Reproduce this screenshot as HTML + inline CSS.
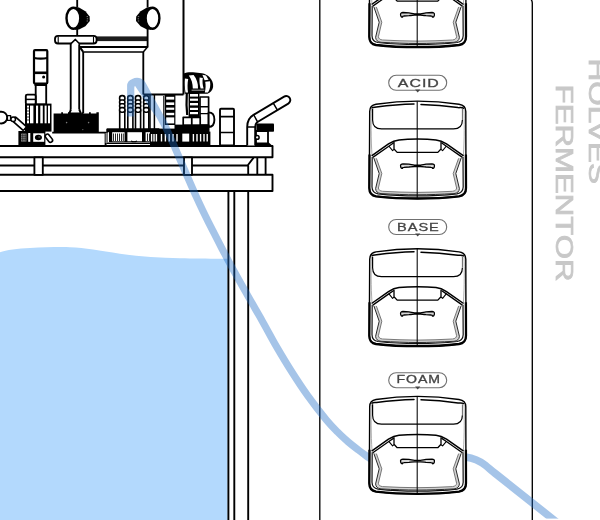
<!DOCTYPE html>
<html lang="en">
<head>
<meta charset="utf-8">
<title>Holves Fermentor</title>
<style>
html,body{margin:0;padding:0;background:#fff;}
body{width:600px;height:520px;overflow:hidden;position:relative;font-family:"Liberation Sans",sans-serif;}
svg{position:absolute;left:0;top:0;display:block;will-change:transform;}
.k{fill:none;stroke:#000;stroke-width:1.85;stroke-linecap:butt;stroke-linejoin:round;}
.k2{fill:none;stroke:#000;stroke-width:2.2;stroke-linejoin:round;}
.k1{fill:none;stroke:#000;stroke-width:1.1;stroke-linejoin:round;}
.w{fill:#fff;stroke:#000;stroke-width:1.85;stroke-linejoin:round;}
.w1{fill:#fff;stroke:#000;stroke-width:1.2;stroke-linejoin:round;}
.b{fill:#000;stroke:none;}
.lab{font-family:"Liberation Sans",sans-serif;font-size:11.2px;fill:#444;stroke:#444;stroke-width:0.3;}
.brand{font-family:"Liberation Sans",sans-serif;font-size:23.4px;fill:#c8c8c8;stroke:#c8c8c8;stroke-width:0.7;}
</style>
</head>
<body>
<svg width="600" height="520" viewBox="0 0 600 520">
<defs>
<!-- PUMP-SYMBOL -->
<g id="pump">
<path d="M369.7,111.5 C369.7,107 371.6,104.9 376,104.2 C390,102.2 404,101.2 417.5,101.1 C431,101.2 445,102.2 459,104.2 C463.6,104.9 465.8,107 465.8,111.5 L466,188 C466,193 463.6,195.6 459,196.3 C445,197.9 431,198.5 417.5,198.5 C404,198.5 390,197.9 376,196.3 C371.6,195.6 369.3,193 369.3,188 Z" fill="#fff" stroke="#000" stroke-width="1.4" stroke-linejoin="round"/>
<path d="M369.5,154.5 L369.3,188 C369.3,193 371.6,195.6 376,196.3 C390,197.9 404,198.5 417.5,198.5 C431,198.5 445,197.9 459,196.3 C463.6,195.6 466,193 466,188 L465.9,154.5" fill="none" stroke="#000" stroke-width="2.3" stroke-linejoin="round"/>
<path d="M372,108 C373,107 374.5,107.4 376.5,107.1 C390,105.3 403,104.3 414,104.1 M421,104.5 C432,104.9 445,105.9 458,107.6 C460,107.8 462,107.2 463.4,108.2" fill="none" stroke="#000" stroke-width="1.5" stroke-linecap="round"/>
<path d="M372.6,109 V120 C372.6,126 375.6,128.9 381.5,128.9 H453.5 C459.4,128.9 462.4,126 462.4,120" fill="none" stroke="#000" stroke-width="1.2"/><path d="M462.4,120 V109" fill="none" stroke="#666" stroke-width="1"/>
<path d="M371.4,109 C371,120 370.9,140 372,155 M464,109 C464.4,120 464.5,140 463.4,155" fill="none" stroke="#888" stroke-width="0.7"/>
<path d="M371.6,155.8 L388.5,143.9 C392,141.6 395,140.3 399,139.9 C405,139.3 411,139.1 417.5,139.1 C424,139.1 430,139.3 436,139.9 C440,140.3 443,141.6 446.5,143.9 L463.6,155.8" fill="none" stroke="#000" stroke-width="1.5" stroke-linejoin="round"/>
<path d="M372.8,157.4 L388.8,146.2 L393.8,142.8 M462.4,157.4 L446.4,146.2 L441.4,142.8" fill="none" stroke="#000" stroke-width="1.3" stroke-linejoin="round"/>
<path d="M394,142 V149 L397.2,152.4 H437.8 L441,149 V142" fill="none" stroke="#000" stroke-width="1.3" stroke-linejoin="round"/>
<path d="M388.8,146 L392.6,150.6 L394,149.4 M446.4,146 L442.6,150.6 L441,149.4" fill="none" stroke="#000" stroke-width="1.1" stroke-linejoin="round"/>
<path d="M372.2,157 L372,187 C372.1,191 374,193.2 378,193.8 C391,195.3 404,195.9 417.5,195.9 C431,195.9 444,195.3 457,193.8 C461,193.2 463,191 463.2,187 L463,157" fill="none" stroke="#111" stroke-width="1.2" stroke-linejoin="round"/>
<path d="M375.1,158.2 L380.5,173.5 L377,188.3 C377.2,190.8 378.8,192.2 381.8,192.5 C394,193.1 406,193.6 417.5,193.6 C429,193.6 441,193.1 453.2,192.5 C456.2,192.2 457.8,190.8 458,188.3 L454.5,173.5 L459.9,158.2" fill="none" stroke="#d2d2d2" stroke-width="2.6" stroke-linejoin="round"/>
<path d="M373.8,158 L379.2,173.5 L375.6,188.6 C375.8,191.6 377.6,193.2 381,193.6 C394,194.3 406,194.8 417.5,194.8 C429,194.8 441,194.3 454,193.6 C457.4,193.2 459.2,191.6 459.4,188.6 L455.8,173.5 L461.2,158" fill="none" stroke="#2a2a2a" stroke-width="1" stroke-linejoin="round"/>
<path d="M376.4,158.4 L381.8,173.5 L378.4,188 C378.6,190 380,191 382.6,191.3 C394,191.9 406,192.4 417.5,192.4 C429,192.4 441,191.9 452.4,191.3 C455,191 456.4,190 456.6,188 L453.2,173.5 L458.6,158.4" fill="none" stroke="#6a6a6a" stroke-width="0.9" stroke-linejoin="round"/>
<path d="M400.6,166.4 C400.2,164.6 401.4,163.8 403,163.8 L409,164.1 C411,164.3 412.5,165 414.5,165.1 L420.5,165.1 C422.5,165 424,164.3 426,164.1 L432,163.8 C433.6,163.8 434.8,164.6 434.4,166.4 C434.2,167.8 433.4,168.6 432.4,168.4 C432.6,167.6 432,167.3 431,167.3 L426,167 C424,166.8 422.5,166.5 420.5,166.5 L414.5,166.5 C412.5,166.5 411,166.8 409,167 L404,167.3 C403,167.3 402.4,167.6 402.6,168.4 C401.6,168.6 400.8,167.8 400.6,166.4 Z" fill="#d6d6d6" stroke="#000" stroke-width="1.3" stroke-linejoin="round"/>
<path d="M417.2,101.3 V198.5" fill="none" stroke="#000" stroke-width="1.05"/>
</g>

</defs>
<rect x="0" y="0" width="600" height="520" fill="#fff"/>

<!-- liquid -->
<path id="liquid" d="M0,252.3 C6,250 18,248.6 30,248 C45,247.2 60,246.9 70,247.2 C85,247.8 100,250.4 120,253.8 C140,256.6 160,257.8 180,258.3 C195,258.6 215,258.8 227.6,258.7 L227.6,520 L0,520 Z" fill="#b3d9fd"/>

<!-- FERMENTOR-DRAWING -->
<g id="fermentor">
<!-- vessel wall / legs -->
<path class="k" style="stroke-width:1.9" d="M228.4,191 V525 M234.3,191 V525 M248.2,191 V525"/>
<!-- platform -->
<rect class="w" x="-5" y="146" width="277.5" height="11.2" style="stroke-width:1.9"/>
<rect class="w" x="-5" y="174.8" width="277.5" height="16.2" style="stroke-width:1.9"/>
<path class="k" d="M0,165.5 H247.6 L253.6,157.6 M248.2,165.5 V175 M257.3,157.5 V175 M265.6,157.5 V175"/>
<rect class="w" x="34.4" y="157.3" width="8.4" height="17.5"/>
<rect class="w" x="184" y="157.3" width="8" height="17.5"/>

<!-- tall frame lines -->
<path class="k" style="stroke-width:2" d="M183.5,-2 V94.5 M143.3,94.5 H183.5"/>
<path class="k" d="M143.3,51.9 V94.5 M83.2,51.9 V113"/>
<path class="k" style="stroke-width:1.5" d="M83.2,51.9 H143.3 L147.5,47"/>
<path class="k" style="stroke-width:2" d="M79.6,46.9 H147.5 M79.6,46.9 L83.2,51.9"/>
<rect x="96.5" y="36.4" width="50.8" height="4.7" fill="#1c1c1c"/>
<path class="k" d="M147.6,29 V47.5"/>

<!-- bulb 1 -->
<path class="k" d="M77.2,-2 V7.5 M77.2,29 V36"/>
<path class="b" d="M75,6.8 L79,7.4 L85.4,11.2 L89.6,16.4 L89.8,21 L85.4,26.2 L79,29.4 L75,29.8 Z"/>
<ellipse cx="73.4" cy="18.2" rx="6.9" ry="10.5" class="w" style="stroke-width:2.4"/>
<path d="M86.6,16.6 h1.4 M86.8,18.8 h1.4 M86.6,21 h1.4" stroke="#999" stroke-width="0.8" fill="none"/>
<!-- bulb 2 -->
<path class="k" d="M147.6,-2 V7.5"/>
<path class="b" d="M151,6.8 L147,7.4 L140.6,11.2 L136.2,16.4 L136,21 L140.6,26.2 L147,29.4 L151,29.8 Z"/>
<ellipse cx="152.5" cy="18.2" rx="6.9" ry="10.5" class="w" style="stroke-width:2.4"/>
<path d="M137.8,16.6 h1.4 M137.6,18.8 h1.4 M137.8,21 h1.4" stroke="#999" stroke-width="0.8" fill="none"/>

<!-- T bar and stem -->
<path class="k" d="M70.7,43.5 V110 M79.2,43.5 V110"/>
<rect class="w" x="55" y="35.8" width="41.6" height="7.7" rx="3" ry="3"/>
<path class="k1" d="M58.2,36.5 V43 M93.5,36.5 V43"/>
<path class="w" d="M71,45 L71,43.6 L75.4,39.4 L79.2,43.6 L79.2,45" style="stroke-width:1.5"/>
<path class="w" d="M71,109.5 L69.2,113.5 H81 L79.2,109.5"/>

<!-- tower -->
<rect class="w" x="34" y="50.2" width="13.3" height="33.4" rx="1" ry="1" style="stroke-width:2.2"/>
<path class="k" d="M34,58 Q40.7,59.4 47.4,58" style="stroke-width:2.2"/>
<path class="k" d="M34,72.8 H47.4" style="stroke-width:2.6"/>
<circle cx="43.6" cy="77" r="1.5" class="b"/>
<rect class="w" x="35.7" y="85" width="10.5" height="19.5"/>
<path class="k" d="M34.5,84.6 H47" style="stroke-width:2.6"/>
<rect class="w" x="25.8" y="94.6" width="9.9" height="10" rx="1.5" ry="1.5"/>
<path class="k" d="M26,99.4 H35.5" style="stroke-width:1.5"/>

<!-- ribbed block -->
<rect class="b" x="25" y="103.6" width="26.5" height="28"/>
<rect fill="#fff" x="27" y="105.6" width="2" height="17.7"/>
<rect fill="#fff" x="30" y="105.6" width="3.4" height="17.7"/>
<rect fill="#fff" x="36" y="105.6" width="2.1" height="17.7"/>
<rect fill="#fff" x="40.3" y="105.6" width="2.5" height="17.7"/>
<rect fill="#fff" x="44.6" y="105.6" width="2" height="17.7"/>
<rect fill="#fff" x="48" y="105.6" width="2" height="17.7"/>
<path d="M27,108 h2 M27,111 h2 M27,114 h2 M27,117 h2 M27,120 h2" stroke="#000" stroke-width="0.8"/>

<!-- lower block -->
<rect class="b" x="18.4" y="131" width="27" height="15.5"/>
<rect fill="#9a9a9a" x="21.2" y="133.6" width="5.2" height="8"/>
<path d="M22.5,133.6 v8 M24,133.6 v8 M25.4,133.6 v8 M21.2,135.6 h5.2 M21.2,137.6 h5.2 M21.2,139.6 h5.2" stroke="#222" stroke-width="0.6"/>
<rect fill="#fff" x="28.2" y="133" width="2.1" height="8.8"/>
<rect fill="#fff" x="33.2" y="133.3" width="11" height="8.5"/>
<ellipse cx="38.4" cy="137.5" rx="3.5" ry="2.8" class="b"/>
<ellipse cx="39.3" cy="137" rx="1.2" ry="0.7" fill="#555"/>
<!-- lever -->
<rect class="w" x="-4.6" y="-2.1" width="9.2" height="4.2" rx="2.1" ry="2.1" transform="translate(48.9,138.2) rotate(52)" style="stroke-width:1.6"/>

<!-- left arm -->
<circle cx="1.3" cy="117.6" r="5.9" class="w" style="stroke-width:1.9"/>
<rect class="w" x="-7.6" y="-2.5" width="15.2" height="5" rx="1" transform="translate(19.3,123.6) rotate(41.5)" style="stroke-width:1.7"/>
<rect class="w" x="7.4" y="115.6" width="3.2" height="4.8" style="stroke-width:1.4"/>
<circle cx="13.2" cy="119.2" r="2.3" class="w" style="stroke-width:1.5"/>

<!-- big black block -->
<path class="b" d="M53.6,132.6 V113.6 H61.2 V112.2 H63 V113.6 H68 V112.2 H69.5 V113.6 H82 V112.2 H83.5 V113.6 H89 V112.2 H90.8 V113.6 H96.4 V112.2 H98.8 V132.6 Z"/>
<circle cx="66.6" cy="122.6" r="0.8" fill="#777"/><circle cx="88.6" cy="122.6" r="0.8" fill="#777"/><circle cx="82.8" cy="129.6" r="0.7" fill="#666"/>
<path class="k" d="M52.2,132.6 H105.6 V146" style="stroke-width:1.9"/>

<!-- probes base -->
<rect class="w" x="107" y="129.2" width="52" height="14" style="stroke-width:1.5"/>
<rect class="b" x="107" y="128.6" width="52" height="3.6"/>
<rect fill="#888" x="105.4" y="133" width="2.4" height="10"/>
<path d="M113.5,133.5 v7.5 M115.5,133.5 v7.5 M117.5,133.5 v7.5 M119.5,133.5 v7.5 M121.5,133.5 v7.5 M123.3,133.5 v7.5 M147.5,133.5 v7.5 M149.5,133.5 v7.5 M151.5,133.5 v7.5 M153.5,133.5 v7.5 M155.5,133.5 v7.5" stroke="#111" stroke-width="0.9"/>
<rect class="b" x="109" y="132" width="3.2" height="10"/>
<rect class="b" x="124.6" y="132" width="2.8" height="10"/>
<rect class="b" x="142" y="132" width="3.6" height="10"/>
<path class="k" d="M109,141.6 H158" style="stroke-width:0.8"/>
<path class="k1" d="M131,141 q3,1.6 6,0" />

<!-- probes -->
<g id="probe">
<rect class="w" x="119.7" y="110" width="5.1" height="19" style="stroke-width:1.6"/>
<rect class="w" x="119.6" y="95.6" width="5.3" height="5.2" rx="2.4" ry="2.4" style="stroke-width:1.6"/>
<rect class="w" x="119.6" y="100" width="5.3" height="4.4" rx="2" ry="1.9" style="stroke-width:1.6"/>
<rect class="w" x="119.6" y="103.8" width="5.3" height="4.4" rx="2" ry="1.9" style="stroke-width:1.6"/>
<rect class="w" x="119.6" y="107.6" width="5.3" height="4.6" rx="2" ry="1.9" style="stroke-width:1.6"/>
</g>
<use href="#probe" x="8.1"/>
<use href="#probe" x="15.8"/>
<use href="#probe" x="24"/>

<!-- right device -->
<path class="k" d="M150,95 V129 M154.4,95 V129" style="stroke-width:1.5"/>
<path class="k1" d="M163.8,96 V129"/>
<rect class="b" x="164.8" y="94" width="10.6" height="31"/>
<rect fill="#fff" x="166.2" y="96.8" width="8" height="2.8"/>
<rect fill="#fff" x="166.2" y="102.4" width="8" height="2.6"/>
<rect fill="#fff" x="166.2" y="107.6" width="8" height="2.2"/>
<rect fill="#fff" x="166.2" y="112.8" width="8" height="2.4"/>
<rect fill="#fff" x="166.2" y="117.4" width="8" height="6"/>
<rect class="b" x="150" y="128.6" width="26" height="4"/>

<!-- motor -->
<path class="b" d="M183.6,73.6 C186,72.3 190,72 193,72.3 C196,72.5 199,73.1 202,73.3 C205,73.7 207.6,75.3 209.6,77.3 C212.2,80 213.5,83.4 213.1,87 C212.7,90.4 210.2,92.6 207.4,93.8 L185,93.8 C184,90 183.6,80 183.6,73.6 Z"/>
<g fill="#fff">
<path d="M184.9,78.6 C184.5,83 184.7,88 185.5,92.6 L188,92.6 C187.4,88 187.4,83 188.2,79 Z"/>
<path d="M188.8,75.4 L193.6,75 C196.8,79 198.2,83.6 198,88.4 L192.8,88.4 C192.8,83.6 191.6,79 188.8,75.4 Z"/>
<path d="M199.6,77.6 C199.2,81.4 199.6,85 200.6,88.4 L203.6,88.4 C202.6,85 202.2,81.4 202.8,78 Z"/>
<path d="M202.4,74.8 L206,75.4 L208.6,79.8 L204.6,80.2 Z"/>
<path d="M205.2,81.8 L210,81.2 C210.8,85 210,89.4 208,92.4 L204.8,92.4 C205.8,88.6 205.8,85 205.2,81.8 Z"/>
</g>
<path d="M191.6,90.2 H204.4" stroke="#aaa" stroke-width="1" fill="none"/>
<!-- ribbed col 2 -->
<rect class="b" x="188.6" y="92.6" width="10.8" height="25.4"/>
<rect fill="#fff" x="190" y="94" width="8" height="2.6"/>
<rect fill="#fff" x="190" y="98.6" width="8" height="2.2"/>
<rect fill="#fff" x="190" y="103" width="8" height="2.4"/>
<rect fill="#fff" x="190" y="107.8" width="8" height="2.2"/>
<rect fill="#fff" x="190" y="112" width="8" height="2.2"/>
<path class="k" d="M186.8,93 C186.4,100 186.4,108 187.2,115" style="stroke-width:2.2"/>
<rect class="w" x="200" y="97" width="8.6" height="28" style="stroke-width:1.7"/>
<path class="w" d="M208.6,112.4 C212.6,112.4 214.4,115.6 214.4,119.8 C214.4,124 212.6,127 208.6,127 Z" style="stroke-width:1.9"/>
<path class="k" d="M200,106.8 h8.6 M200,113.6 h8.6" style="stroke-width:1.4"/>
<rect class="w" x="183.2" y="117.3" width="8.6" height="8" style="stroke-width:1.7"/>
<rect class="w" x="191.8" y="117.3" width="8.4" height="8" style="stroke-width:1.7"/>
<!-- black band + knurled row -->
<rect class="b" x="174.5" y="124.6" width="35" height="7.6"/>
<rect class="b" x="150" y="131.6" width="60.4" height="15"/>
<path d="M151.6,134 v7.5 M154,134 v7.5 M156.4,134 v7.5 M161.5,134 v7.5 M165.4,134 v7.5 M169.2,134 v7.5 M173,134 v7.5 M177,134 v7.5 M193.4,134 v7.5 M197,134 v7.5 M200.6,134 v7.5 M204,134 v7.5 M207.2,134 v7.5" stroke="#fff" stroke-width="1.4"/>
<rect fill="#fff" x="182.3" y="133.6" width="6.9" height="8"/>

<!-- small cylinder -->
<rect class="w" x="220" y="108.8" width="14" height="36.6" rx="1" style="stroke-width:1.9"/>
<path class="k" d="M220,116.7 h14 M220,132.5 h14" style="stroke-width:1.7"/>

<!-- bent tube -->
<path class="w" d="M247.2,145.5 V127 C247.2,120.6 249.5,117.2 253.5,114.9 L284.1,96.6 A4.05,4.05 0 0 1 288.3,103.6 L257.9,121.8 C256,122.9 255.2,124.6 255.2,127 V145.5" style="stroke-width:1.9"/>
<path class="k" d="M247.4,127 H255.2 M253.8,115 L257.6,121.8 M273.4,103.3 L277.3,109.9" style="stroke-width:1.5"/>
<!-- knob -->
<rect class="w" x="256" y="131" width="12" height="14.6" style="stroke-width:1.8"/>
<rect class="b" x="256.4" y="123.4" width="17.6" height="8.4" rx="0.8"/>
<circle cx="257.2" cy="137.4" r="1.9" class="w" style="stroke-width:1.5"/>
<path class="b" d="M255,142.6 H268.8 L273.4,146.8 L255,146.8 Z"/>
</g>


<!-- panel -->
<path class="k" d="M319.8,-5 L319.8,525" style="stroke-width:1.35"/>
<path class="k" d="M532.6,525 L532.6,3 C532.6,1 532,0 531,-1" transform="translate(-0.3,0)" style="stroke-width:1.35"/>

<!-- tube -->
<g fill="none" stroke="#1e6cc5" stroke-opacity="0.4" stroke-width="7.2" stroke-linecap="butt" stroke-linejoin="round">
<path d="M130.7,116.6 V87.5 A6.3,6.3 0 0 1 142.5,84.5 L150.7,99.6 C152.9,103.7 160.0,116.0 164.2,124.2 C168.3,132.5 171.8,140.7 175.5,148.9 C179.1,157.1 182.5,165.3 186.1,173.5 C189.7,181.8 193.2,190.0 197.0,198.2 C200.7,206.4 204.7,214.6 208.8,222.8 C212.9,231.0 217.2,239.3 221.4,247.5 C225.7,255.7 230.0,263.9 234.5,272.1 C239.0,280.3 243.7,288.6 248.4,296.8 C253.0,305.0 257.9,313.2 262.5,321.4 C267.2,329.6 271.4,337.8 276.2,346.1 C281.0,354.3 285.8,362.5 291.1,370.7 C296.3,378.9 301.6,387.1 307.5,395.4 C313.4,403.6 321.4,413.9 326.4,420.0 C331.5,426.1 333.9,428.3 337.6,432.0 C341.2,435.7 344.9,439.0 348.3,442.0 C351.8,445.0 355.0,447.4 358.4,450.0 C361.8,452.6 366.9,456.3 368.6,457.6 L371,459.3 M130.7,100 V86.6 A4.1,4.1 0 0 1 138.4,84.4 L158,113.5"/>
<path d="M463.5,456.8 L465.5,457 C473,458 480,461 485.5,465.4 C487.5,467 491,470 495,473.3 L557,522.4" stroke-width="7.6"/>
</g>

<!-- PUMPS -->
<use href="#pump" y="-151.3"/>
<use href="#pump" y="0"/>
<use href="#pump" y="147.7"/>
<use href="#pump" y="295.3"/>
<g fill="#fff" stroke="#707070" stroke-width="1.1">
<rect x="388.7" y="75.3" width="58" height="15" rx="7.5" ry="7.5"/>
<rect x="388.7" y="219.5" width="58" height="15" rx="7.5" ry="7.5"/>
<rect x="388.7" y="372.7" width="58" height="15" rx="7.5" ry="7.5"/>
</g>
<g fill="#444">
<path d="M415.1,89.5 h5.2 l-2.6,3 Z"/>
<path d="M415.1,233.4 h5.2 l-2.6,3 Z"/>
<path d="M415.1,386.6 h5.2 l-2.6,2.9 Z"/>
</g>
<text class="lab" transform="translate(397.8,86.9) scale(1.42,1)" textLength="28.87" lengthAdjust="spacing">ACID</text>
<text class="lab" transform="translate(397.0,231.0) scale(1.3,1)" textLength="32.15" lengthAdjust="spacing">BASE</text>
<text class="lab" transform="translate(396.5,383.3) scale(1.26,1)" textLength="34.60" lengthAdjust="spacing">FOAM</text>


<rect x="534" y="518.6" width="66" height="2" fill="#fff"/>
<!-- brand text -->
<text class="brand" transform="translate(555.9,84.6) rotate(90)" textLength="197" lengthAdjust="spacingAndGlyphs">FERMENTOR</text>
<text class="brand" transform="translate(589,58.6) rotate(90)" textLength="125.5" lengthAdjust="spacingAndGlyphs">HOLVES</text>
</svg>
</body>
</html>
